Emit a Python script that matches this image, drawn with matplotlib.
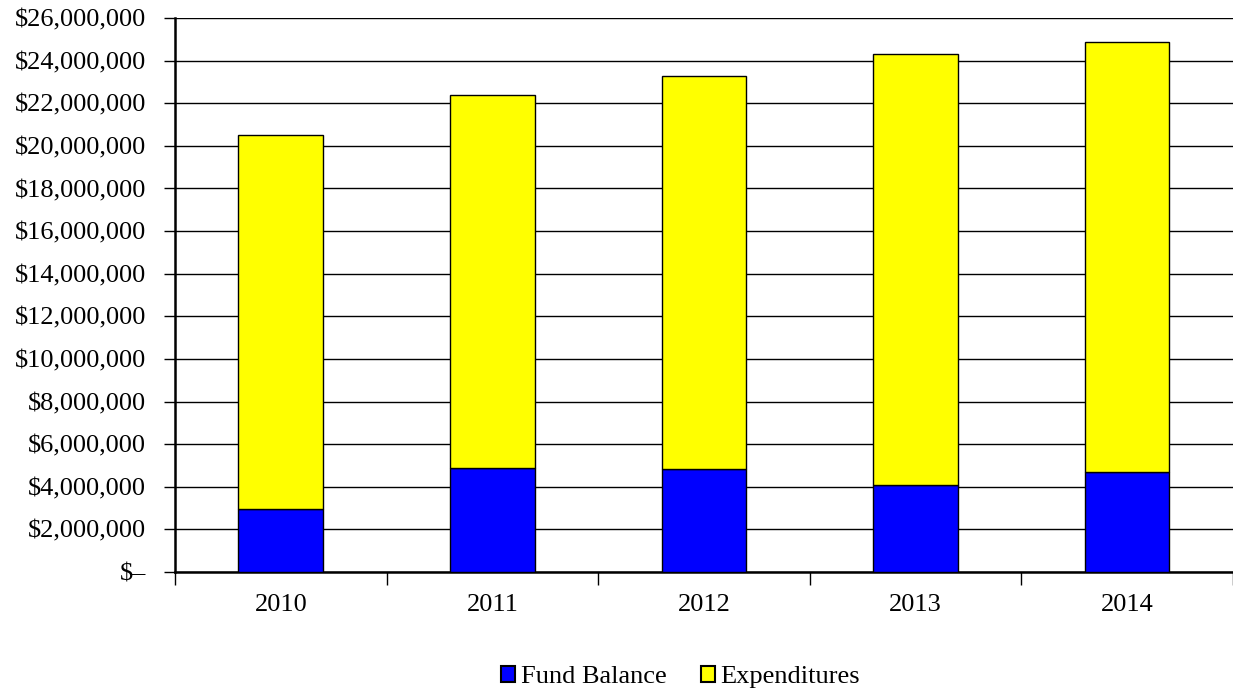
import matplotlib
matplotlib.use("Agg")
import matplotlib.pyplot as plt
from matplotlib.ticker import FuncFormatter, FixedLocator
import numpy as np

years = ["2010", "2011", "2012", "2013", "2014"]
fund_balance = [2940000, 4880000, 4820000, 4070000, 4680000]
expenditures = [17580000, 17510000, 18480000, 20220000, 20200000]

plt.rcParams['font.family'] = ['Liberation Serif', 'DejaVu Serif']

fig = plt.figure(figsize=(12.33, 6.92), dpi=100)
ax = fig.add_axes([0.1419, 0.1734, 0.858, 0.8006])

x = np.arange(len(years))
w = 0.40
ax.bar(x, fund_balance, w, color='#0000FF', edgecolor='black', linewidth=1, label='Fund Balance', zorder=3)
ax.bar(x, expenditures, w, bottom=fund_balance, color='#FFFF00', edgecolor='black', linewidth=1, label='Expenditures', zorder=3)

ax.set_xlim(-0.5, len(years) - 0.5)
ax.set_ylim(0, 26000000)
ax.set_yticks(np.arange(0, 26000001, 2000000))

def fmt(v, pos):
    if v == 0:
        return '$\u2013'
    return '${:,.0f}'.format(v)
ax.yaxis.set_major_formatter(FuncFormatter(fmt))

ax.set_xticks(x)
ax.set_xticklabels(years)
ax.xaxis.set_minor_locator(FixedLocator(np.arange(-0.5, len(years), 1.0)))
ax.tick_params(axis='x', which='major', length=0, pad=16, labelsize=19)
ax.tick_params(axis='x', which='minor', length=9, width=1, direction='out')
ax.tick_params(axis='y', length=8, width=1, direction='out', labelsize=19, pad=13)

ax.grid(axis='y', color='black', linewidth=1, zorder=0)
ax.set_axisbelow(True)
for s in ['top', 'right']:
    ax.spines[s].set_visible(False)
ax.spines['left'].set_linewidth(1.8)
ax.spines['bottom'].set_linewidth(1.8)

leg = fig.legend(loc='center', bbox_to_anchor=(0.552, 0.022), ncol=2, frameon=False,
                 fontsize=19, handlelength=0.55, handleheight=0.55, handletextpad=0.2, columnspacing=1.3)
for h in leg.legend_handles:
    h.set_linewidth(1.5)

fig.savefig('out.png', dpi=100)
